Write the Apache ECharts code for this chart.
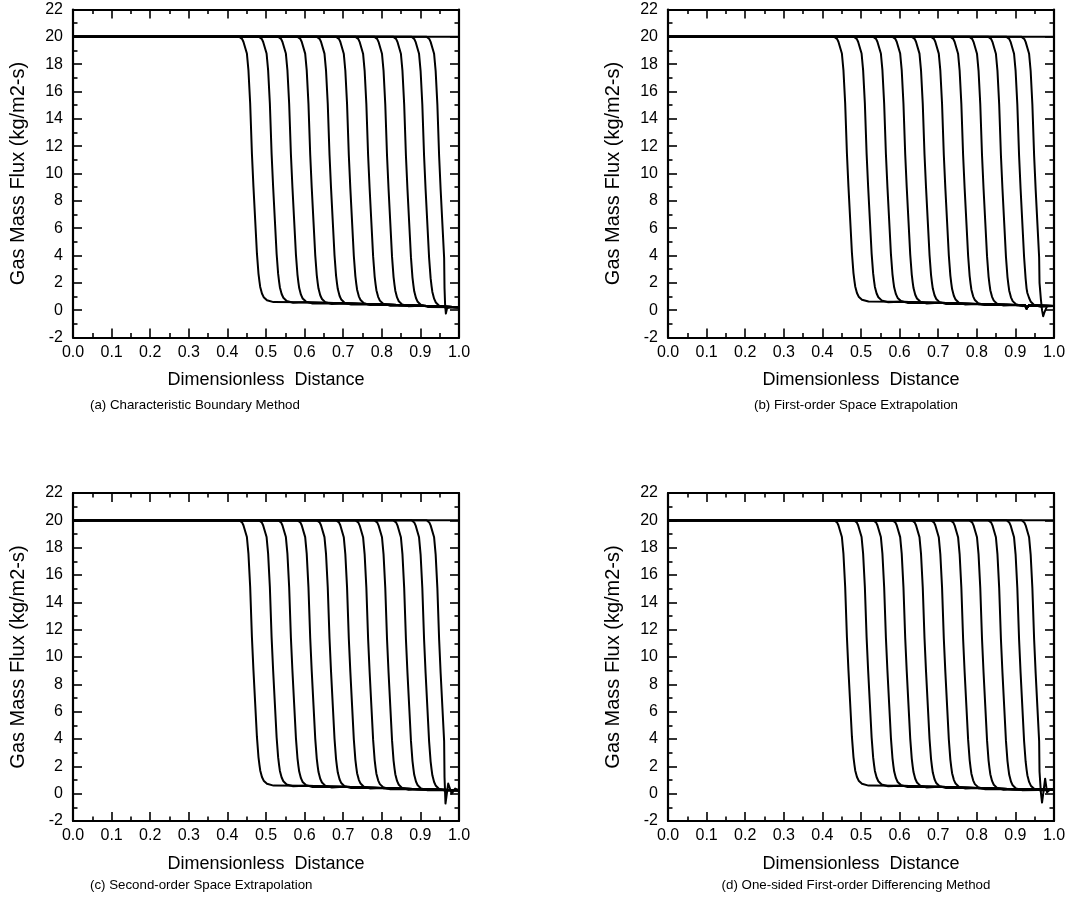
<!DOCTYPE html>
<html>
<head>
<meta charset="utf-8">
<script src="https://cdn.jsdelivr.net/npm/echarts@6/dist/echarts.min.js"></script>
<style>
  html, body { margin: 0; padding: 0; background: #fff; }
  #chart { width: 1084px; height: 910px; }
</style>
</head>
<body>
<div id="chart"></div>
<script>
// Front positions (dimensionless distance at mid-height) for the successive times
const frontPositions = [0.466, 0.517, 0.567, 0.617, 0.667, 0.717, 0.767, 0.816, 0.865, 0.912, 0.951];

// Shape of one front: [offset from front position, mass flux]
const frontProfile = [
  [-0.035, 20.0], [-0.028, 19.85], [-0.0245, 19.64], [-0.0155, 18.78],
  [-0.0115, 17.56], [-0.007, 15.12], [-0.0025, 11.46], [0.0015, 9.02],
  [0.006, 6.58], [0.0105, 4.15], [0.0145, 2.68], [0.017, 2.1],
  [0.019, 1.70], [0.0235, 1.22], [0.028, 0.95], [0.0365, 0.73], [0.0535, 0.61]
];
const profileFloor = 0.68;

// Downstream (low-flux) level behind the fronts, per method
const floorA = [[0.50, 0.68], [0.60, 0.58], [0.70, 0.50], [0.80, 0.42], [0.90, 0.33], [1.00, 0.22]];
const floorB = [[0.50, 0.72], [0.60, 0.62], [0.70, 0.54], [0.80, 0.46], [0.90, 0.38], [0.925, 0.36], [0.929, 0.12], [0.934, 0.34], [1.00, 0.30]];
const floorC = [[0.50, 0.68], [0.60, 0.58], [0.70, 0.50], [0.80, 0.42], [0.90, 0.33], [1.00, 0.25]];
const floorD = [[0.50, 0.68], [0.60, 0.58], [0.70, 0.50], [0.80, 0.42], [0.90, 0.33], [1.00, 0.28]];

// Behaviour of the last front as it reaches the outlet boundary, per method
const tailA = [[0.9625, 1.6], [0.964, 0.4], [0.966, -0.25], [0.969, 0.12], [0.975, 0.24], [1.00, 0.22]];
const tailB = [[0.9625, 2.0], [0.966, 0.8], [0.969, 0.0], [0.972, -0.45], [0.976, -0.1], [0.982, 0.3], [1.00, 0.30]];
const tailC = [[0.9625, 1.2], [0.965, -0.72], [0.972, 0.74], [0.981, 0.0], [0.990, 0.37], [1.00, 0.25]];
const tailD = [[0.9625, 1.6], [0.966, 0.1], [0.969, -0.65], [0.973, 0.2], [0.977, 1.1], [0.982, 0.1], [0.990, 0.3], [1.00, 0.28]];

const xTickValues = [0.0, 0.1, 0.2, 0.3, 0.4, 0.5, 0.6, 0.7, 0.8, 0.9, 1.0];
const yTickValues = [-2, 0, 2, 4, 6, 8, 10, 12, 14, 16, 18, 20, 22];

const captions = [
  '(a) Characteristic Boundary Method',
  '(b) First-order Space Extrapolation',
  '(c) Second-order Space Extrapolation',
  '(d) One-sided First-order Differencing Method'
];
const xTitle = 'Dimensionless  Distance';
const yTitle = 'Gas Mass Flux (kg/m2-s)';
const initialLevel = 20;

const panels = [
  { floor: floorA, tail: tailA, left: 73, top: 9.5 },
  { floor: floorB, tail: tailB, left: 668, top: 9.5 },
  { floor: floorC, tail: tailC, left: 73, top: 493 },
  { floor: floorD, tail: tailD, left: 668, top: 493 }
];
const plotW = 386, plotH = 328;

function floorAt(floor, x) {
  if (x <= floor[0][0]) return floor[0][1];
  for (let i = 1; i < floor.length; i++) {
    if (x <= floor[i][0]) {
      const a = floor[i - 1], b = floor[i];
      return a[1] + (b[1] - a[1]) * (x - a[0]) / (b[0] - a[0]);
    }
  }
  return floor[floor.length - 1][1];
}

function buildCurve(front, panel, isLast) {
  const pts = [[0, initialLevel]];
  let lastX = 0;
  for (const [dx, y] of frontProfile) {
    const x = front + dx;
    if (isLast && x >= panel.tail[0][0] - 0.0005) break;
    const fl = floorAt(panel.floor, x);
    const yy = fl + (y - profileFloor) * (initialLevel - fl) / (initialLevel - profileFloor);
    pts.push([x, yy]);
    lastX = x;
  }
  if (isLast) {
    for (const p of panel.tail) pts.push(p);
  } else {
    for (const p of panel.floor) if (p[0] > lastX + 0.004) pts.push(p);
  }
  return pts;
}

const FONT = 'Liberation Sans, Arial, Helvetica, sans-serif';
const grid = [], xAxis = [], yAxis = [], series = [], graphic = [];

panels.forEach((p, i) => {
  grid.push({ left: p.left, top: p.top, width: plotW, height: plotH, containLabel: false });
  const tick = { inside: true, length: 9, lineStyle: { color: '#000', width: 1.6 } };
  const minor = { show: true, splitNumber: 2, length: 4.5, lineStyle: { color: '#000', width: 1.6 } };
  const line = { show: true, onZero: false, lineStyle: { color: '#000', width: 2.2 } };
  const baseX = { type: 'value', gridIndex: i, min: 0, max: 1, interval: 0.1,
    axisLine: line, axisTick: tick, minorTick: minor, splitLine: { show: false } };
  const baseY = { type: 'value', gridIndex: i, min: -2, max: 22, interval: 2,
    axisLine: line, axisTick: tick, minorTick: minor, splitLine: { show: false } };
  xAxis.push(Object.assign({}, baseX, {
    position: 'bottom',
    axisLabel: { color: '#000', fontFamily: FONT, fontSize: 16, margin: 7,
      formatter: v => xTickValues.includes(Math.round(v * 10) / 10) ? v.toFixed(1) : '' },
    name: xTitle, nameLocation: 'middle', nameGap: 34,
    nameTextStyle: { color: '#000', fontFamily: FONT, fontSize: 18 }
  }));
  xAxis.push(Object.assign({}, baseX, { position: 'top', axisLabel: { show: false } }));
  yAxis.push(Object.assign({}, baseY, {
    position: 'left',
    axisLabel: { color: '#000', fontFamily: FONT, fontSize: 16, margin: 10,
      formatter: v => yTickValues.includes(v) ? String(v) : '' },
    name: yTitle, nameLocation: 'middle', nameGap: 45,
    nameTextStyle: { color: '#000', fontFamily: FONT, fontSize: 20 }
  }));
  yAxis.push(Object.assign({}, baseY, { position: 'right', axisLabel: { show: false } }));

  const xi = i * 2, yi = i * 2;
  const lineStyle = { color: '#000', width: 2, join: 'round', cap: 'round' };
  series.push({ type: 'line', xAxisIndex: xi, yAxisIndex: yi, symbol: 'none', silent: true,
    lineStyle, data: [[0, initialLevel], [1, initialLevel]] });
  frontPositions.forEach((f, k) => {
    series.push({ type: 'line', xAxisIndex: xi, yAxisIndex: yi, symbol: 'none', silent: true,
      lineStyle, data: buildCurve(f, p, k === frontPositions.length - 1) });
  });

  const leftCol = i % 2 === 0;
  graphic.push({ type: 'text', left: leftCol ? 90 : 'auto', top: i < 2 ? 399 : 879,
    ...(leftCol ? {} : { x: 856 }),
    style: { text: captions[i], fill: '#000', font: '13.3px ' + FONT,
      textAlign: leftCol ? 'left' : 'center' } });
});

const chart = echarts.init(document.getElementById('chart'), null, { renderer: 'canvas' });
chart.setOption({ animation: false, backgroundColor: '#fff', grid, xAxis, yAxis, series, graphic });
</script>
</body>
</html>
